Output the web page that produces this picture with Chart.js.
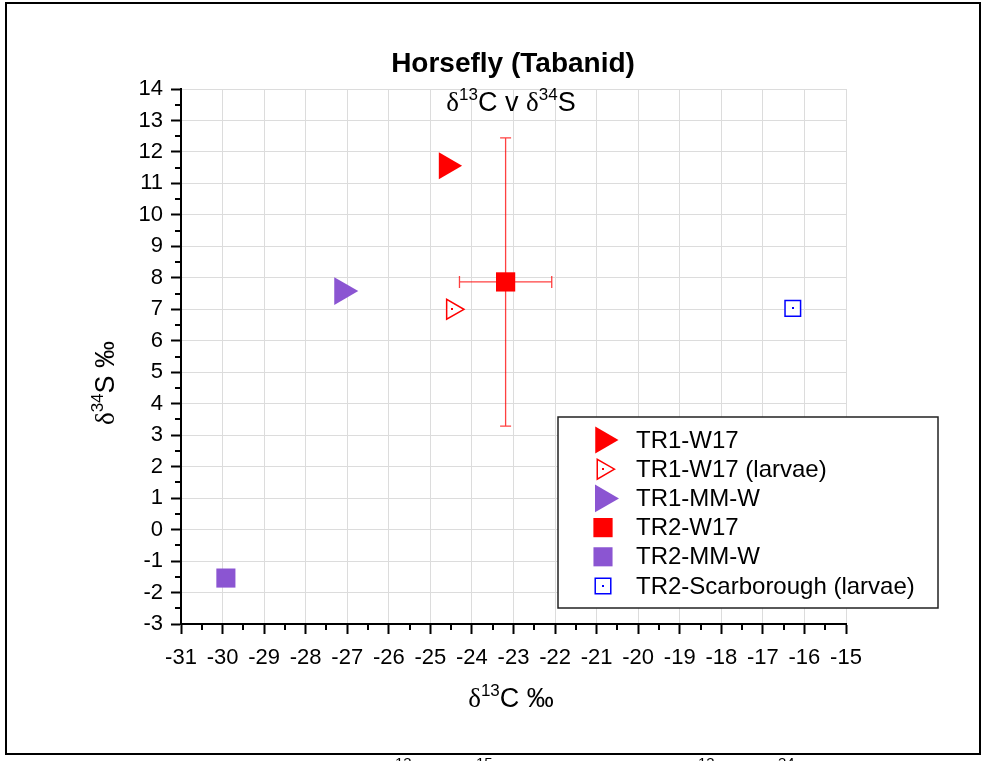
<!DOCTYPE html>
<html>
<head>
<meta charset="utf-8">
<script src="https://cdn.jsdelivr.net/npm/chart.js@4.4.1/dist/chart.umd.min.js"></script>
<style>
  html, body { margin: 0; padding: 0; background: #fff; }
  canvas { display: block; }
</style>
</head>
<body>
<canvas id="isoChart" width="988" height="761"></canvas>
<script>
// data
const seriesNames = ['TR1-W17', 'TR1-W17 (larvae)', 'TR1-MM-W', 'TR2-W17', 'TR2-MM-W', 'TR2-Scarborough (larvae)'];
const d13C = [-24.61, -24.47, -27.12, -23.19, -29.92, -16.28];
const d34S = [11.56, 7.0, 7.58, 7.87, -1.54, 7.03];
const d13CErr = [0, 0, 0, 1.11, 0, 0];
const d34SErr = [0, 0, 0, 4.58, 0, 0];
const xTickRange = [-31, -15];
const yTickRange = [-3, 14];

const RED = '#ff0000', PURPLE = '#8b55d2', BLUE = '#0000ff';
const styles = [
    { shape: 'triangle', rot: 90, r: 15.5, fill: RED, stroke: RED, open: false },
    { shape: 'triangle', rot: 90, r: 11.5, fill: '#fff', stroke: RED, open: true },
    { shape: 'triangle', rot: 90, r: 16, fill: PURPLE, stroke: PURPLE, open: false },
    { shape: 'rect', rot: 0, r: 13.6, fill: RED, stroke: RED, open: false },
    { shape: 'rect', rot: 0, r: 13.5, fill: PURPLE, stroke: PURPLE, open: false },
    { shape: 'rect', rot: 0, r: 11, fill: '#fff', stroke: BLUE, open: true }
];

const SANS = '"Liberation Sans", Arial, sans-serif';
const SERIF = '"Liberation Serif", "Times New Roman", serif';

const datasets = seriesNames.map((name, i) => ({
    label: name,
    data: [{ x: d13C[i], y: d34S[i] }],
    pointStyle: styles[i].shape,
    rotation: styles[i].rot,
    pointRadius: styles[i].r,
    backgroundColor: styles[i].fill,
    borderColor: styles[i].stroke,
    borderWidth: styles[i].open ? 1.5 : 0,
    showLine: false
}));

// draw text runs with superscripts; parts = [text, sup?, serif?]
function richWidth(ctx, parts, size) {
    let w = 0;
    parts.forEach(p => {
        ctx.font = (p[1] ? Math.round(size * 0.62) : size) + 'px ' + (p[2] ? SERIF : SANS);
        w += ctx.measureText(p[0]).width;
    });
    return w;
}
function drawRich(ctx, parts, cx, baseY, size) {
    let x = cx - richWidth(ctx, parts, size) / 2;
    ctx.textAlign = 'left';
    ctx.textBaseline = 'alphabetic';
    parts.forEach(p => {
        ctx.font = (p[1] ? Math.round(size * 0.62) : size) + 'px ' + (p[2] ? SERIF : SANS);
        ctx.fillText(p[0], x, p[1] ? baseY - size * 0.42 : baseY);
        x += ctx.measureText(p[0]).width;
    });
}

const decorPlugin = {
    id: 'decor',
    beforeDatasetsDraw(chart) {
        const ctx = chart.ctx, xs = chart.scales.x, ys = chart.scales.y;
        ctx.save();
        ctx.strokeStyle = 'rgba(255,0,0,0.75)';
        ctx.lineWidth = 1.3;
        d13C.forEach((cx, i) => {
            const px = xs.getPixelForValue(cx), py = ys.getPixelForValue(d34S[i]);
            if (d34SErr[i]) {
                const t = ys.getPixelForValue(d34S[i] + d34SErr[i]);
                const b = ys.getPixelForValue(d34S[i] - d34SErr[i]);
                ctx.beginPath();
                ctx.moveTo(px, t); ctx.lineTo(px, b);
                ctx.moveTo(px - 5.5, t); ctx.lineTo(px + 5.5, t);
                ctx.moveTo(px - 5.5, b); ctx.lineTo(px + 5.5, b);
                ctx.stroke();
            }
            if (d13CErr[i]) {
                const l = xs.getPixelForValue(cx - d13CErr[i]);
                const r = xs.getPixelForValue(cx + d13CErr[i]);
                ctx.beginPath();
                ctx.moveTo(l, py); ctx.lineTo(r, py);
                ctx.moveTo(l, py - 6); ctx.lineTo(l, py + 6);
                ctx.moveTo(r, py - 6); ctx.lineTo(r, py + 6);
                ctx.stroke();
            }
        });
        ctx.restore();
    },
    afterDraw(chart) {
        const ctx = chart.ctx, xs = chart.scales.x, ys = chart.scales.y;
        const area = chart.chartArea;
        ctx.save();

        // outer frame
        ctx.strokeStyle = '#000';
        ctx.lineWidth = 2;
        ctx.strokeRect(6, 3, 974, 751);

        // minor ticks
        ctx.lineWidth = 2;
        ctx.beginPath();
        for (let v = xTickRange[0] + 0.5; v < xTickRange[1]; v += 1) {
            const p = Math.round(xs.getPixelForValue(v));
            ctx.moveTo(p, area.bottom); ctx.lineTo(p, area.bottom + 6);
        }
        for (let v = yTickRange[0] + 0.5; v < yTickRange[1]; v += 1) {
            const p = Math.round(ys.getPixelForValue(v));
            ctx.moveTo(area.left, p); ctx.lineTo(area.left - 6, p);
        }
        ctx.stroke();

        // open-marker centre dots
        styles.forEach((s, i) => {
            if (!s.open) return;
            const px = xs.getPixelForValue(d13C[i]), py = ys.getPixelForValue(d34S[i]);
            ctx.fillStyle = s.stroke;
            ctx.fillRect(Math.round(px) - 1, Math.round(py) - 1, 2, 2);
        });

        // titles
        ctx.fillStyle = '#000';
        ctx.textAlign = 'center';
        ctx.textBaseline = 'alphabetic';
        ctx.font = 'bold 28px ' + SANS;
        ctx.fillText('Horsefly (Tabanid)', 513, 72);
        drawRich(ctx, [['δ', 0, 1], ['13', 1], ['C v ', 0], ['δ', 0, 1], ['34', 1], ['S', 0]], 511, 111, 27);
        drawRich(ctx, [['δ', 0, 1], ['13', 1], ['C ‰', 0]], 511, 707, 27);
        ctx.save();
        ctx.translate(114, 383);
        ctx.rotate(-Math.PI / 2);
        drawRich(ctx, [['δ', 0, 1], ['34', 1], ['S ‰', 0]], 0, 0, 27);
        ctx.restore();

        // legend
        const lx = 558, ly = 417, lw = 380, lh = 191;
        ctx.fillStyle = '#fff';
        ctx.fillRect(lx, ly, lw, lh);
        ctx.strokeStyle = '#222';
        ctx.lineWidth = 1.5;
        ctx.strokeRect(lx, ly, lw, lh);
        seriesNames.forEach((name, i) => {
            const s = styles[i];
            const cy = 440 + i * 29.2;
            ctx.fillStyle = s.fill;
            ctx.strokeStyle = s.stroke;
            ctx.lineWidth = s.open ? 1.5 : 0.01;
            Chart.helpers.drawPoint(ctx, { pointStyle: s.shape, rotation: s.rot, radius: s.r, borderWidth: s.open ? 1.5 : 0 }, 603, cy);
            if (s.open) {
                ctx.fillStyle = s.stroke;
                ctx.fillRect(602, Math.round(cy) - 1, 2, 2);
            }
            ctx.fillStyle = '#000';
            ctx.font = '24px ' + SANS;
            ctx.textAlign = 'left';
            ctx.textBaseline = 'middle';
            ctx.fillText(name, 636, cy + 1);
        });

        // cut-off caption below the frame (only superscripts visible)
        ctx.fillStyle = '#000';
        ctx.font = '15px ' + SANS;
        ctx.textAlign = 'left';
        ctx.textBaseline = 'top';
        [['13', 395], ['15', 476], ['13', 698], ['34', 778]].forEach(t => ctx.fillText(t[0], t[1], 756));
        ctx.restore();
    }
};

new Chart(document.getElementById('isoChart').getContext('2d'), {
    type: 'scatter',
    data: { datasets: datasets },
    plugins: [decorPlugin],
    options: {
        responsive: false,
        animation: false,
        layout: { padding: { top: 89, right: 142, left: 0, bottom: 0 } },
        plugins: { legend: { display: false }, title: { display: false }, tooltip: { enabled: false } },
        scales: {
            x: {
                type: 'linear', min: xTickRange[0], max: xTickRange[1],
                ticks: { stepSize: 1, autoSkip: false, maxRotation: 0, padding: 11, color: '#000', font: { family: SANS, size: 22 }, callback: v => String(v) },
                grid: { color: '#dcdcdc', lineWidth: 1, tickColor: '#000', tickWidth: 2, tickLength: 10 },
                border: { color: '#000', width: 2 },
                afterFit: s => { s.height = 137; }
            },
            y: {
                type: 'linear', min: yTickRange[0], max: yTickRange[1],
                ticks: { stepSize: 1, autoSkip: false, padding: 8, color: '#000', font: { family: SANS, size: 22 }, callback: v => String(v) },
                grid: { color: '#dcdcdc', lineWidth: 1, tickColor: '#000', tickWidth: 2, tickLength: 10 },
                border: { color: '#000', width: 2 },
                afterFit: s => { s.width = 181; }
            }
        }
    }
});
</script>
</body>
</html>
